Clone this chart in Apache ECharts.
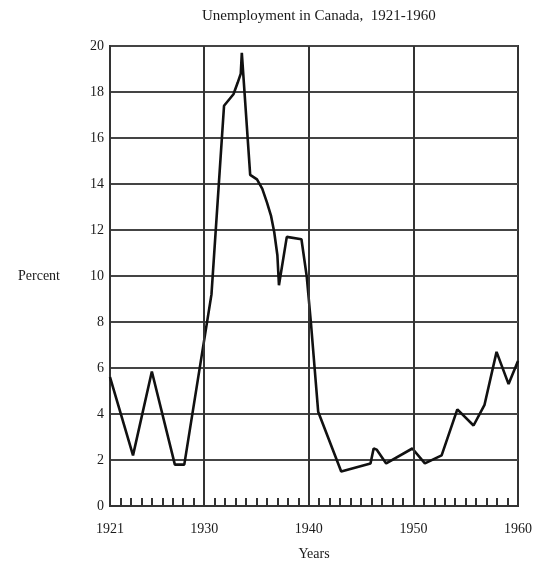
<!DOCTYPE html>
<html>
<head>
<meta charset="utf-8">
<script src="https://cdn.jsdelivr.net/npm/echarts@6/dist/echarts.min.js"></script>
<style>html,body{margin:0;padding:0;background:#fff;}#c{width:550px;height:568px;}</style>
</head>
<body>
<div id="c"></div>
<script>
// Data (year, percent)
var years = [1921.0, 1923.2, 1925.0, 1927.2, 1928.1, 1930.7, 1931.9, 1932.8, 1933.2, 1933.5, 1933.6,
  1934.4, 1935.05, 1935.55, 1936.0, 1936.4, 1936.7, 1937.0, 1937.15, 1937.9, 1939.3, 1939.8, 1940.2,
  1940.9, 1943.1, 1945.9, 1946.2, 1946.5, 1947.4, 1949.9, 1951.1, 1952.7, 1954.2, 1955.75, 1956.8,
  1957.95, 1959.1, 1960.0];
var unemployment = [5.6, 2.2, 5.85, 1.8, 1.8, 9.2, 17.4, 17.9, 18.4, 18.8, 19.7,
  14.4, 14.2, 13.8, 13.2, 12.6, 11.9, 10.9, 9.6, 11.7, 11.6, 10.0, 8.0,
  4.1, 1.5, 1.85, 2.5, 2.45, 1.85, 2.5, 1.85, 2.2, 4.2, 3.5, 4.4,
  6.7, 5.3, 6.3];
var decadeLines = [1930, 1940, 1950];
var labelYears = [1921, 1930, 1940, 1950, 1960];
var titleText = 'Unemployment in Canada,  1921-1960';

var serif = '"Liberation Serif", "DejaVu Serif", serif';
var chart = echarts.init(document.getElementById('c'));
chart.setOption({
  backgroundColor: '#fff',
  animation: false,
  title: {
    text: titleText, left: 197, top: 4,
    textStyle: {fontFamily: serif, fontSize: 15, fontWeight: 'normal', color: '#1a1a1a'}
  },
  grid: {left: 110, right: 32, top: 46, bottom: 62, show: true, borderColor: '#333', borderWidth: 2, backgroundColor: 'transparent'},
  xAxis: {
    type: 'value', min: 1921, max: 1960, interval: 1,
    name: 'Years', nameLocation: 'middle', nameGap: 41,
    nameTextStyle: {fontFamily: serif, fontSize: 14, color: '#1a1a1a'},
    axisLine: {show: true, lineStyle: {color: '#333', width: 2}},
    axisTick: {show: true, inside: true, length: 8, lineStyle: {color: '#333', width: 2}},
    splitLine: {show: false},
    axisLabel: {
      margin: 16, fontFamily: serif, fontSize: 14, color: '#1a1a1a',
      formatter: function (v) { return labelYears.indexOf(v) >= 0 ? String(v) : ''; }
    }
  },
  yAxis: {
    type: 'value', min: 0, max: 20, interval: 2,
    name: 'Percent', nameLocation: 'middle', nameRotate: 0, nameGap: 50,
    nameTextStyle: {fontFamily: serif, fontSize: 14, color: '#1a1a1a', align: 'right'},
    axisLine: {show: true, lineStyle: {color: '#333', width: 2}},
    axisTick: {show: false},
    splitLine: {show: true, lineStyle: {color: '#444', width: 2}},
    axisLabel: {margin: 6, fontFamily: serif, fontSize: 14, color: '#1a1a1a'}
  },
  series: [{
    type: 'line',
    data: years.map(function (y, i) { return [y, unemployment[i]]; }),
    symbol: 'none',
    lineStyle: {color: '#111', width: 2.6},
    markLine: {
      silent: true, symbol: 'none', label: {show: false},
      lineStyle: {color: '#333', width: 2, type: 'solid'},
      data: decadeLines.map(function (d) { return {xAxis: d}; })
    }
  }]
});
</script>
</body>
</html>
